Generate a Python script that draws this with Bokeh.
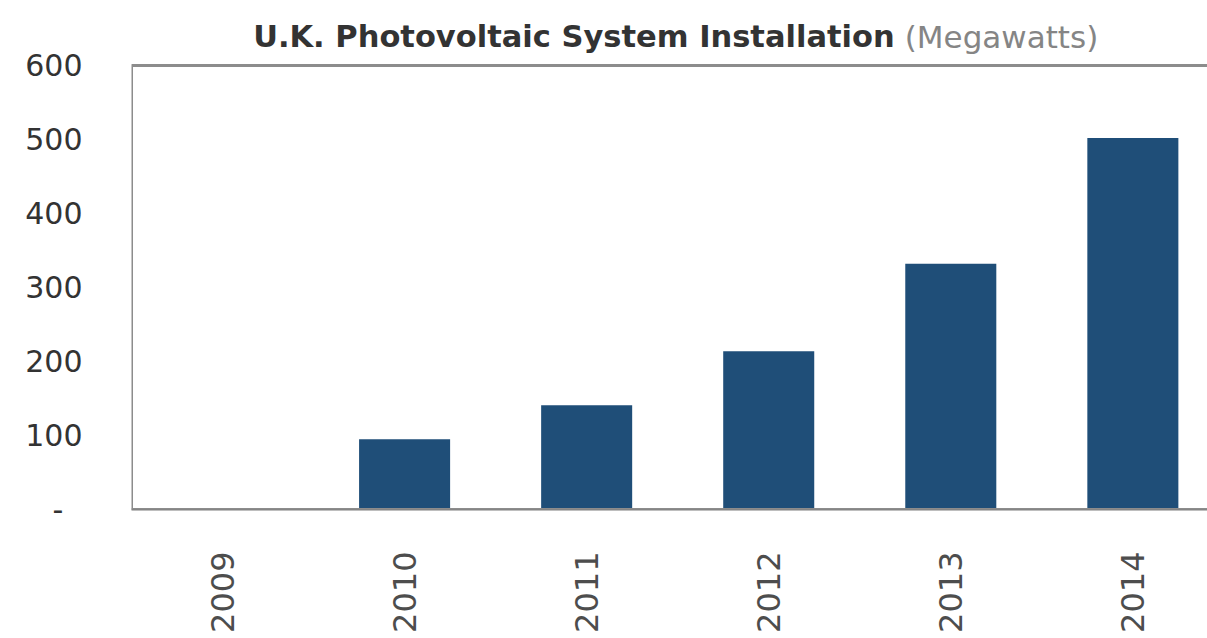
import math
from bokeh.plotting import figure
from bokeh.models import Range1d, FixedTicker, Label, BoxAnnotation
from bokeh.embed import file_html
from bokeh.resources import INLINE

years = ["2009", "2010", "2011", "2012", "2013", "2014"]
installed_mw = [0, 95, 141, 214, 332, 502]
y_ticks = [0, 100, 200, 300, 400, 500, 600]
title_main = "U.K. Photovoltaic System Installation"
title_unit = "(Megawatts)"

xs = list(range(len(years)))
y_top = y_ticks[-1]

# frame extends above the 600 line so the title can live inside it
p = figure(width=1207, height=638, output_backend="svg", toolbar_location=None,
           x_range=Range1d(-0.5, 5.41), y_range=Range1d(0, 687.8),
           min_border_left=131, min_border_right=0, min_border_top=0,
           min_border_bottom=129)

p.vbar(x=xs, top=installed_mw, width=0.5, bottom=0,
       fill_color="#1f4e78", line_color=None)

p.xgrid.visible = False
p.ygrid.visible = False
p.background_fill_color = "white"
p.border_fill_color = "white"
p.outline_line_color = None

# plot-area border (top + left), bottom is the x axis line
p.add_layout(BoxAnnotation(left=-0.5, right=6.5, bottom=0, top=y_top,
                           fill_alpha=0, line_color="#8c8c8c", line_alpha=1.0,
                           line_width=3))

xa = p.xaxis[0]
xa.ticker = FixedTicker(ticks=xs)
xa.major_label_overrides = {i: y for i, y in enumerate(years)}
xa.major_label_orientation = math.pi / 2
xa.major_tick_line_color = None
xa.minor_tick_line_color = None
xa.axis_line_color = "#7f7f7f"
xa.axis_line_width = 2
xa.major_label_standoff = 36
xa.major_label_text_font = "DejaVu Sans"
xa.major_label_text_font_size = "32px"
xa.major_label_text_color = "#4d4d4d"

ya = p.yaxis[0]
ya.ticker = FixedTicker(ticks=y_ticks)
ya.major_label_overrides = {0: "-\u00a0\u00a0"}
ya.major_tick_line_color = None
ya.minor_tick_line_color = None
ya.axis_line_color = None
ya.major_label_standoff = 43
ya.major_label_text_font = "DejaVu Sans"
ya.major_label_text_font_size = "30px"
ya.major_label_text_color = "#333333"

p.add_layout(Label(x=3.692, y=639, text=title_main, text_align="right",
                   text_baseline="alphabetic", text_font="DejaVu Sans",
                   text_font_style="bold", text_font_size="30.5px",
                   text_color="#333333"))
p.add_layout(Label(x=3.747, y=639, text=title_unit, text_align="left",
                   text_baseline="alphabetic", text_font="DejaVu Sans",
                   text_font_size="31px", text_color="#858585"))

open("out.html", "w").write(file_html(p, INLINE))
